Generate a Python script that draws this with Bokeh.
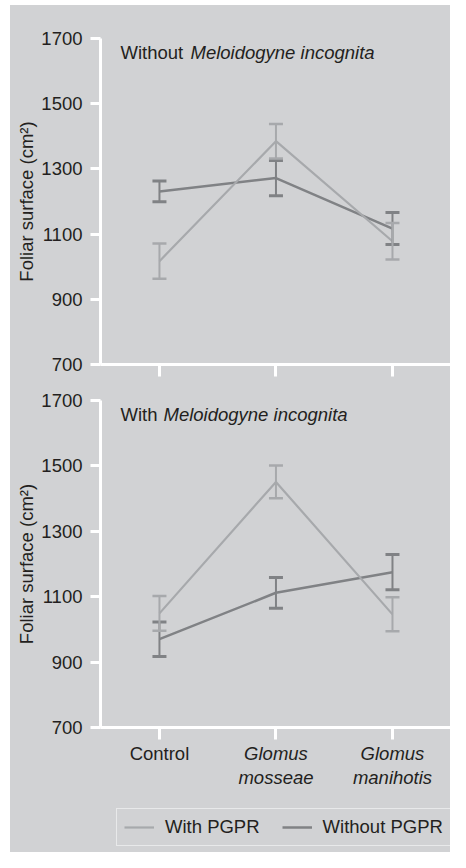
from bokeh.plotting import figure
from bokeh.models import (Range1d, FixedTicker, Whisker, TeeHead, ColumnDataSource,
                          Label, Legend, LegendItem)
from bokeh.core.properties import value
from bokeh.layouts import column
from bokeh.embed import file_html
from bokeh.resources import INLINE

# ---------------- data ----------------
categories = ["Control", "Glomus mosseae", "Glomus manihotis"]
y_ticks = [700, 900, 1100, 1300, 1500, 1700]

# Without Meloidogyne incognita
top_with_pgpr = [1017, 1385, 1078]
top_with_pgpr_se = [54, 53, 56]
top_without_pgpr = [1231, 1272, 1117]
top_without_pgpr_se = [32, 54, 49]

# With Meloidogyne incognita
bot_with_pgpr = [1049, 1451, 1046]
bot_with_pgpr_se = [53, 50, 52]
bot_without_pgpr = [970, 1112, 1175]
bot_without_pgpr_se = [53, 47, 54]

series_names = ["With PGPR", "Without PGPR"]
panel_prefixes = ["Without ", "With "]
species = "Meloidogyne incognita"
y_label = "Foliar surface (cm²)"

# ---------------- style ----------------
BG = "#d1d2d4"
LIGHT = "#a7a9ac"
DARK = "#808285"
TEXT = "#231f20"
FONT = "Liberation Sans"
FS = "18.5px"
W = 440
LEFT = 90
X_RANGE = (-0.506, 2.498)

xs = list(range(len(categories)))


def style_fig(p):
    p.background_fill_color = None
    p.border_fill_color = None
    p.outline_line_color = None
    p.grid.visible = False


def make_panel(height, border_top, border_bottom, prefix, prefix_w, with_vals, with_se,
               without_vals, without_se):
    p = figure(width=W, height=height,
               x_range=Range1d(*X_RANGE), y_range=Range1d(y_ticks[0], y_ticks[-1]),
               output_backend="svg", toolbar_location=None,
               min_border_left=LEFT, min_border_right=0,
               min_border_top=border_top, min_border_bottom=border_bottom)
    style_fig(p)

    ya = p.yaxis[0]
    ya.ticker = FixedTicker(ticks=y_ticks)
    ya.axis_line_color = "white"
    ya.axis_line_width = 3
    ya.major_tick_line_color = "white"
    ya.major_tick_line_width = 3
    ya.major_tick_out = 10
    ya.major_tick_in = 0
    ya.minor_tick_line_color = None
    ya.major_label_text_font = FONT
    ya.major_label_text_font_size = FS
    ya.major_label_text_color = TEXT
    ya.major_label_standoff = 8
    ya.axis_label = y_label
    ya.axis_label_text_font = FONT
    ya.axis_label_text_font_size = FS
    ya.axis_label_text_font_style = "normal"
    ya.axis_label_text_color = TEXT
    ya.axis_label_standoff = 1

    xa = p.xaxis[0]
    xa.ticker = FixedTicker(ticks=xs)
    xa.major_label_overrides = {i: "" for i in xs}
    xa.axis_line_color = "white"
    xa.axis_line_width = 3
    xa.major_tick_line_color = "white"
    xa.major_tick_line_width = 3
    xa.major_tick_out = 12
    xa.major_tick_in = 0
    xa.minor_tick_line_color = None
    xa.major_label_standoff = 0

    src_w = ColumnDataSource(dict(x=xs, y=with_vals,
                                  lo=[v - e for v, e in zip(with_vals, with_se)],
                                  hi=[v + e for v, e in zip(with_vals, with_se)]))
    src_wo = ColumnDataSource(dict(x=xs, y=without_vals,
                                   lo=[v - e for v, e in zip(without_vals, without_se)],
                                   hi=[v + e for v, e in zip(without_vals, without_se)]))

    for src, col, cw in ((src_wo, DARK, 3), (src_w, LIGHT, 2.5)):
        p.add_layout(Whisker(source=src, base="x", lower="lo", upper="hi",
                             line_color=col, line_width=2,
                             upper_head=TeeHead(size=14, line_color=col, line_width=cw),
                             lower_head=TeeHead(size=14, line_color=col, line_width=cw),
                             level="glyph"))
    p.line("x", "y", source=src_wo, line_color=DARK, line_width=2.5)
    p.line("x", "y", source=src_w, line_color=LIGHT, line_width=2.2)

    p.add_layout(Label(x=p.x_range.start, y=y_ticks[-1], x_offset=20, y_offset=-14,
                       text=prefix, text_font=FONT, text_font_size=FS,
                       text_color=TEXT, text_baseline="alphabetic"))
    p.add_layout(Label(x=p.x_range.start, y=y_ticks[-1], x_offset=20 + prefix_w, y_offset=-14,
                       text=species, text_font=FONT, text_font_size=FS,
                       text_font_style="italic",
                       text_color=TEXT, text_baseline="alphabetic"))
    return p, src_w, src_wo


p1, _, _ = make_panel(375, 33, 16, panel_prefixes[0], 70,
                      top_with_pgpr, top_with_pgpr_se, top_without_pgpr, top_without_pgpr_se)
p2, src_w2, src_wo2 = make_panel(360, 20, 13, panel_prefixes[1], 43,
                                 bot_with_pgpr, bot_with_pgpr_se, bot_without_pgpr,
                                 bot_without_pgpr_se)

# strip under the bottom panel: category names and legend
p3 = figure(width=W, height=112, x_range=p2.x_range, y_range=Range1d(0, 1),
            output_backend="svg", toolbar_location=None,
            x_axis_location=None, y_axis_location=None,
            min_border_left=LEFT, min_border_right=0, min_border_top=0, min_border_bottom=0)
style_fig(p3)

cat_src = ColumnDataSource(dict(
    x=xs,
    y=[p3.y_range.end] * len(categories),
    label=[c.replace(" ", "\n") for c in categories],
    style=["italic" if c.startswith("Glomus") else "normal" for c in categories],
))
p3.text("x", "y", text="label", source=cat_src, text_font=value(FONT),
        text_font_size=value(FS), text_font_style="style", text_color=TEXT,
        text_align="center", text_baseline="top", y_offset=2, text_line_height=1.15)

# legend keys: same series, same styles (their values lie outside this strip's range)
key_w = p3.line("x", "y", source=src_w2, line_color=LIGHT, line_width=2.2)
key_wo = p3.line("x", "y", source=src_wo2, line_color=DARK, line_width=2.5)
legend = Legend(items=[LegendItem(label=series_names[0], renderers=[key_w]),
                       LegendItem(label=series_names[1], renderers=[key_wo])],
                orientation="horizontal", location=(16, 6),
                border_line_color="white", border_line_width=1.5,
                background_fill_alpha=0,
                label_text_font=FONT, label_text_font_size=FS, label_text_color=TEXT,
                glyph_width=30, glyph_height=12, label_height=12,
                label_standoff=11, spacing=22, padding=7, margin=0)
p3.add_layout(legend)

layout = column(p1, p2, p3, spacing=0, margin=(5, 0, 0, 10),
                styles={"background-color": BG})
open("out.html", "w").write(file_html(layout, INLINE))
